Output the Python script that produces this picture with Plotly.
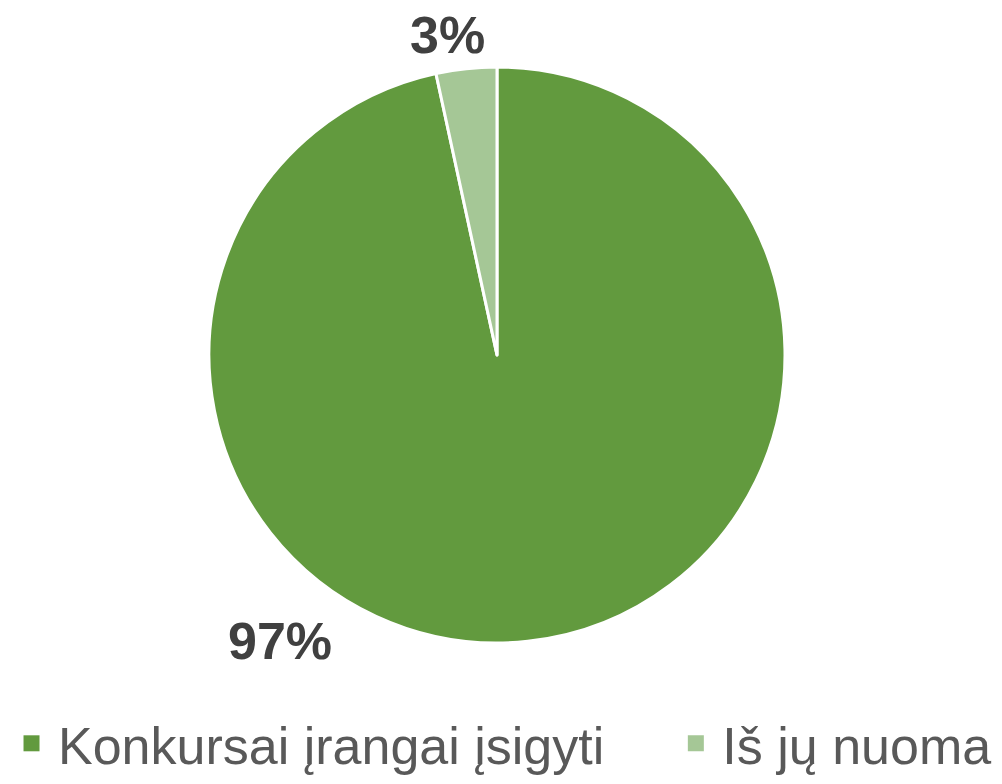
import plotly.graph_objects as go

labels = ["Konkursai įrangai įsigyti", "Iš jų nuoma"]
values = [96.6, 3.4]
colors = ["#629A3E", "#A5C796"]

total = sum(values)
pct_text = [f"{round(v / total * 100)}%" for v in values]

W, H, MB = 1002, 784, 84
PH = H - MB  # plot area height

fig = go.Figure()
fig.add_trace(go.Pie(
    labels=labels,
    values=values,
    sort=False,
    direction="clockwise",
    rotation=0,
    marker=dict(colors=colors, line=dict(color="white", width=3)),
    textinfo="none",
    hoverinfo="label+percent",
    showlegend=False,
    domain=dict(x=[209 / W, 785 / W], y=[1 - 643 / PH, 1 - 67 / PH]),
))

# legend entries (square markers), one legend per entry
legend_ids = ["legend", "legend2"]
for name, col, lg in zip(labels, colors, legend_ids):
    fig.add_trace(go.Scatter(
        x=[None], y=[None], mode="markers", name=name,
        marker=dict(symbol="square", size=20, color=col),
        showlegend=True, hoverinfo="skip", legend=lg,
    ))

label_pos = [(280, 641), (447, 35)]
for t, (px, py) in zip(pct_text, label_pos):
    fig.add_annotation(
        x=px / W, y=1 - py / PH, xref="paper", yref="paper",
        text=t, showarrow=False,
        font=dict(family="Liberation Sans, Arial, sans-serif", size=52, color="#404040", weight="bold"),
        xanchor="center", yanchor="middle",
    )

legend_style = dict(
    orientation="h",
    xanchor="left",
    yref="container",
    y=0.0, yanchor="bottom",
    font=dict(family="Liberation Sans, Arial, sans-serif", size=52, color="#595959"),
    itemwidth=43,
    itemsizing="trace",
    bgcolor="rgba(0,0,0,0)",
)

fig.update_xaxes(visible=False)
fig.update_yaxes(visible=False)
fig.update_layout(
    width=W, height=H,
    margin=dict(l=0, r=0, t=0, b=MB),
    paper_bgcolor="white",
    plot_bgcolor="white",
    showlegend=True,
    legend=dict(x=0.005, **legend_style),
    legend2=dict(x=0.668, **legend_style),
)

fig.write_html("out.html")
